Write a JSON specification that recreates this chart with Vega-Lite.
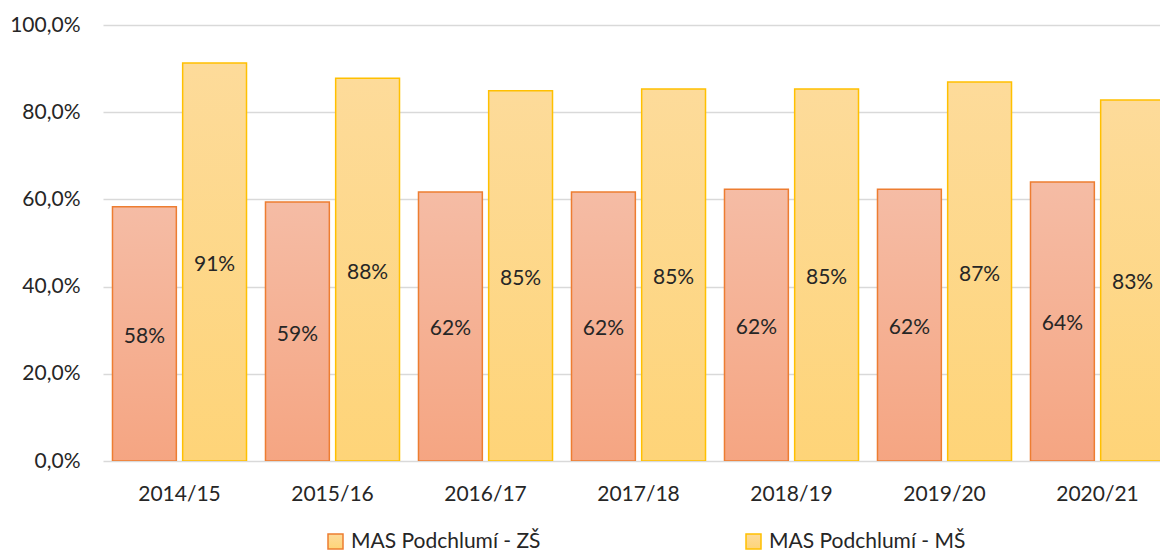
{
  "$schema": "https://vega.github.io/schema/vega-lite/v6.json",
  "width": 1057,
  "height": 436,
  "autosize": {"type": "none"},
  "padding": {"left": 103, "top": 25, "right": 0, "bottom": 92},
  "background": "white",
  "config": {"view": {"stroke": null}, "font": "Lato"},
  "data": {
    "values": [
      {"year": "2014/15", "series": "MAS Podchlumí - ZŠ", "value": 0.583},
      {"year": "2014/15", "series": "MAS Podchlumí - MŠ", "value": 0.913},
      {"year": "2015/16", "series": "MAS Podchlumí - ZŠ", "value": 0.594},
      {"year": "2015/16", "series": "MAS Podchlumí - MŠ", "value": 0.878},
      {"year": "2016/17", "series": "MAS Podchlumí - ZŠ", "value": 0.617},
      {"year": "2016/17", "series": "MAS Podchlumí - MŠ", "value": 0.849},
      {"year": "2017/18", "series": "MAS Podchlumí - ZŠ", "value": 0.617},
      {"year": "2017/18", "series": "MAS Podchlumí - MŠ", "value": 0.853},
      {"year": "2018/19", "series": "MAS Podchlumí - ZŠ", "value": 0.623},
      {"year": "2018/19", "series": "MAS Podchlumí - MŠ", "value": 0.853},
      {"year": "2019/20", "series": "MAS Podchlumí - ZŠ", "value": 0.623},
      {"year": "2019/20", "series": "MAS Podchlumí - MŠ", "value": 0.869},
      {"year": "2020/21", "series": "MAS Podchlumí - ZŠ", "value": 0.64},
      {"year": "2020/21", "series": "MAS Podchlumí - MŠ", "value": 0.828}
    ]
  },
  "encoding": {
    "x": {
      "field": "year",
      "type": "nominal",
      "sort": null,
      "scale": {"range": [0, 1071], "paddingInner": 0.124, "paddingOuter": 0.062},
      "axis": {
        "title": null,
        "labelAngle": 0,
        "ticks": false,
        "domain": false,
        "labelPadding": 22,
        "labelFontSize": 21,
        "labelColor": "#262626"
      }
    },
    "xOffset": {
      "field": "series",
      "type": "nominal",
      "sort": ["MAS Podchlumí - ZŠ", "MAS Podchlumí - MŠ"],
      "scale": {"paddingInner": 0.09}
    }
  },
  "layer": [
    {
      "mark": {"type": "bar", "clip": true, "strokeWidth": 1.5},
      "encoding": {
        "y": {
          "field": "value",
          "type": "quantitative",
          "scale": {"domain": [0, 1]},
          "axis": {
            "title": null,
            "values": [0, 0.2, 0.4, 0.6, 0.8, 1],
            "labelExpr": "replace(format(datum.value, '.1%'), '.', ',')",
            "domain": false,
            "ticks": false,
            "labelPadding": 23,
            "labelFontSize": 21,
            "labelColor": "#262626",
            "gridColor": "#d9d9d9",
            "gridWidth": 1.3
          }
        },
        "fill": {
          "condition": {
            "test": "datum.series == 'MAS Podchlumí - ZŠ'",
            "value": {
              "gradient": "linear", "x1": 0, "y1": 0, "x2": 0, "y2": 1,
              "stops": [{"offset": 0, "color": "#f5bca5"}, {"offset": 1, "color": "#f5a582"}]
            }
          },
          "value": {
            "gradient": "linear", "x1": 0, "y1": 0, "x2": 0, "y2": 1,
            "stops": [{"offset": 0, "color": "#fddb9a"}, {"offset": 1, "color": "#fed478"}]
          }
        },
        "stroke": {
          "field": "series",
          "type": "nominal",
          "sort": ["MAS Podchlumí - ZŠ", "MAS Podchlumí - MŠ"],
          "scale": {"range": ["#ed7d31", "#ffc000"]},
          "legend": {
            "title": null,
            "orient": "none",
            "legendX": 222,
            "legendY": 506,
            "direction": "horizontal",
            "columns": 2,
            "columnPadding": 202,
            "symbolType": "square",
            "symbolSize": 225,
            "symbolStrokeWidth": 1.5,
            "labelFontSize": 21,
            "labelColor": "#262626",
            "labelOffset": 5,
            "labelLimit": 400,
            "encode": {
              "symbols": {
                "update": {
                  "fill": {"signal": "datum.value == 'MAS Podchlumí - ZŠ' ? '#f5b496' : '#fdd88c'"},
                  "opacity": {"value": 1}
                }
              }
            }
          }
        }
      }
    },
    {
      "mark": {"type": "text", "fontSize": 21, "color": "#262626", "baseline": "middle", "dy": 3},
      "encoding": {
        "y": {
          "field": "value",
          "type": "quantitative",
          "scale": {"domain": [0, 2]},
          "axis": null
        },
        "text": {"field": "value", "type": "quantitative", "format": ".0%"}
      }
    }
  ],
  "resolve": {"scale": {"y": "independent"}}
}
